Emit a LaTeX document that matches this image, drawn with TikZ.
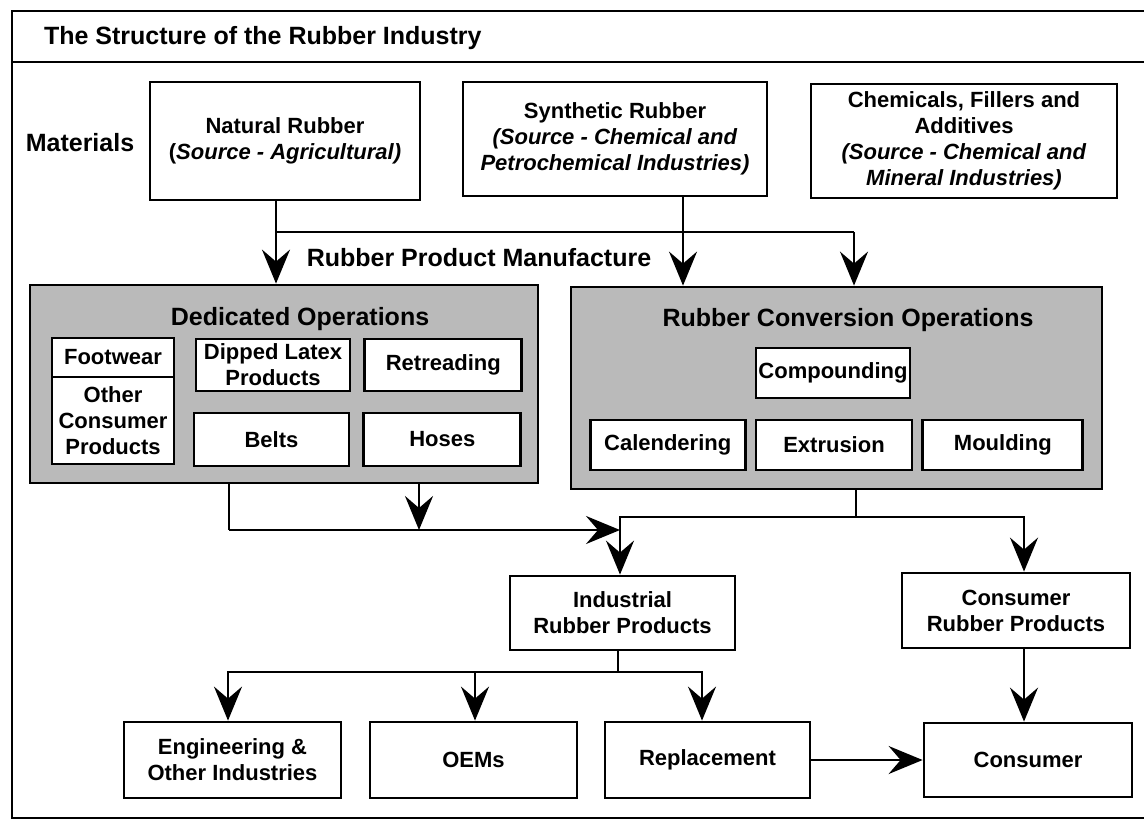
\documentclass[tikz,border=0pt]{standalone}
\usepackage{fontspec}
\setmainfont{Liberation Sans}
\usepackage{tikz}
\usetikzlibrary{positioning,arrows.meta}
\tikzset{
	box/.style={draw, line width=1.4pt, fill=white, align=center, inner sep=1pt,
		font=\bfseries\fontsize{11}{13}\selectfont}, % the white boxes
	opsbox/.style={draw, line width=1.4pt, fill=black!27}, % the shaded groups
	head/.style={font=\bfseries\fontsize{12.5}{15}\selectfont}, % big labels
	link/.style={line width=1.2pt}, % plain connector
	arr/.style={link, -{Stealth[length=17pt,width=14pt,inset=6pt]}}, % connector with tip
}

\begin{document}
\begin{tikzpicture}[x=0.5pt,y=-0.5pt]
	\useasboundingbox (0,0) rectangle (1144,819);
	% frame and title bar
	\draw[line width=1.3pt] (1144,11) -- (12,11) -- (12,818) -- (1144,818);
	\draw[line width=1.3pt] (12,62) -- (1144,62);
	\node[head,anchor=west] (title) at (37,38) {The Structure of the Rubber Industry};
	
	% materials
	\node[head] (mat) at (80,143) {Materials};
	\node[box,minimum width=135pt,minimum height=59pt] (nat) at (285,141)
		{Natural Rubber\\(\textit{Source - Agricultural)}};
	\node[box,minimum width=152pt,minimum height=57pt] (syn) at (615,139)
		{Synthetic Rubber\\\textit{(Source - Chemical and}\\\textit{Petrochemical Industries)}};
	\node[box,minimum width=153pt,minimum height=57pt] (chem) at (964,141)
		{Chemicals, Fillers and\\Additives\\\textit{(Source - Chemical and}\\\textit{Mineral Industries)}};
	\node[head] (mfg) at (479,258) {Rubber Product Manufacture};
	
	% dedicated operations
	\node[opsbox,minimum width=254pt,minimum height=99pt] (ded) at (284,384) {};
	\node[head] (dedt) at (300,319) {Dedicated Operations};
	\node[box,minimum width=61pt,minimum height=19.5pt] (foot) at (113,357.5) {Footwear};
	\node[box,minimum width=61pt,minimum height=43.5pt] (other) at (113,420.5)
		{Other\\Consumer\\Products};
	\node[box,minimum width=77pt,minimum height=26pt] (dip) at (273,365) {Dipped Latex\\Products};
	\node[box,minimum width=78.5pt,minimum height=26pt,right=6pt of dip] (retr) {Retreading};
	\node[box,minimum width=77.5pt,minimum height=26.5pt] (belts) at (271.5,439.5) {Belts};
	\node[box,minimum width=78.5pt,minimum height=26.5pt,right=6pt of belts] (hoses) {Hoses};
	
	% conversion operations
	\node[opsbox,minimum width=265.5pt,minimum height=101pt] (conv) at (836.5,388) {};
	\node[head] (convt) at (848,320) {Rubber Conversion Operations};
	\node[box,minimum width=77pt,minimum height=25pt] (comp) at (833,373) {Compounding};
	\node[box,minimum width=78pt,minimum height=25pt] (ext) at (834,445) {Extrusion};
	\node[box,minimum width=77.5pt,minimum height=25pt,left=4pt of ext] (cal) {Calendering};
	\node[box,minimum width=80pt,minimum height=25pt,right=4pt of ext] (mould) {Moulding};
	
	% products and markets
	\node[box,minimum width=112.5pt,minimum height=37pt] (ind) at (622.5,613) {Industrial\\Rubber Products};
	\node[box,minimum width=114pt,minimum height=37.5pt] (crp) at (1016,610.5) {Consumer\\Rubber Products};
	\node[box,minimum width=108.5pt,minimum height=38pt] (eng) at (232.5,760) {Engineering \&\\Other Industries};
	\node[box,minimum width=103.5pt,minimum height=38pt] (oem) at (473.5,760) {OEMs};
	\node[box,minimum width=102.5pt,minimum height=38pt] (repl) at (707.5,760) {Replacement};
	\node[box,minimum width=104pt,minimum height=37pt] (cons) at (1028,760) {Consumer};
	
	% junction points
	\coordinate (nx) at (276,232);
	\coordinate (sx) at (683,232);
	\coordinate (mx) at (854,232);
	\coordinate (dl) at (229,530);
	\coordinate (dr) at (419,530);
	\coordinate (dj) at (620,530);
	\coordinate (cj) at (856,517);
	\coordinate (ij) at (620,517);
	\coordinate (kj) at (1024,517);
	\coordinate (ib) at (618,672);
	\coordinate (e1) at (228,672);
	\coordinate (e2) at (475,672);
	\coordinate (e3) at (702,672);
	
	% connectors
	\draw[arr] (nat.south -| nx) -- (nx |- ded.north);
	\draw[link] (nx) -- (mx);
	\draw[arr] (syn.south -| sx) -- (sx |- conv.north);
	\draw[arr] (mx) -- (mx |- conv.north);
	\draw[link] (ded.south -| dl) -- (dl);
	\draw[arr] (dl) -- (dj);
	\draw[arr] (ded.south -| dr) -- (dr);
	\draw[link] (conv.south -| cj) -- (cj);
	\draw[arr] (cj) -| (ij |- ind.north);
	\draw[arr] (cj) -| (kj |- crp.north);
	\draw[link] (ind.south -| ib) -- (ib);
	\draw[arr] (ib) -| (e1 |- eng.north);
	\draw[arr] (ib) -| (e2 |- oem.north);
	\draw[arr] (ib) -| (e3 |- repl.north);
	\draw[arr] (repl) -- (cons);
	\draw[arr] (crp.south -| kj) -- (kj |- cons.north);
\end{tikzpicture}
\end{document}
